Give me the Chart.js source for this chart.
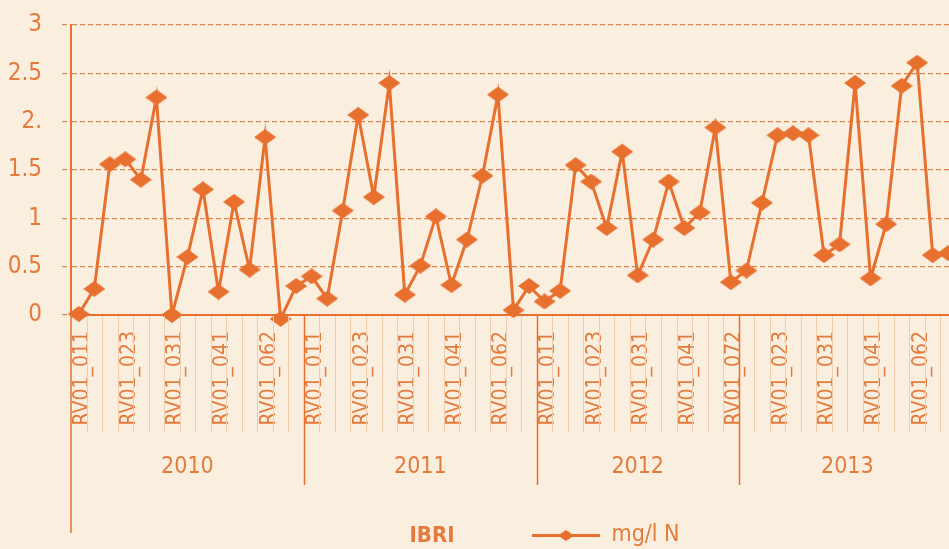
<!DOCTYPE html>
<html>
<head>
<meta charset="utf-8">
<script src="https://cdn.jsdelivr.net/npm/chart.js@4.4.0/dist/chart.umd.min.js"></script>
<style>
  html, body { margin: 0; padding: 0; overflow: hidden; background: #faeedf; }
  #wrap { width: 960px; height: 549px; }
</style>
</head>
<body>
<div id="wrap"><canvas id="chart"></canvas></div>
<script>
// sample codes, only every third one is printed on the axis
const sampleLabels = [
  'RV01_011', '', '', 'RV01_023', '', '', 'RV01_031', '', '', 'RV01_041', '', '', 'RV01_062', '', '',
  'RV01_011', '', '', 'RV01_023', '', '', 'RV01_031', '', '', 'RV01_041', '', '', 'RV01_062', '', '',
  'RV01_011', '', '', 'RV01_023', '', '', 'RV01_031', '', '', 'RV01_041', '', '', 'RV01_072',
  '', '', 'RV01_023', '', '', 'RV01_031', '', '', 'RV01_041', '', '', 'RV01_062', '', ''
];
const years = ['2010', '2011', '2012', '2013'];
const samplesPerYear = [15, 15, 13, 14];
const nitrogen = [
  0.01, 0.27, 1.56, 1.61, 1.40, 2.25, 0.00, 0.60, 1.30, 0.24, 1.17, 0.47, 1.84, -0.04, 0.30,
  0.40, 0.17, 1.08, 2.07, 1.22, 2.40, 0.21, 0.51, 1.02, 0.31, 0.78, 1.44, 2.28, 0.05, 0.30,
  0.14, 0.25, 1.55, 1.38, 0.90, 1.69, 0.41, 0.78, 1.38, 0.90, 1.06, 1.94, 0.34,
  0.46, 1.16, 1.86, 1.88, 1.86, 0.62, 0.73, 2.40, 0.38, 0.94, 2.37, 2.61, 0.62, 0.64
];
const yTickText = ['0', '0.5', '1', '1.5', '2.', '2.5', '3'];
const siteName = 'IBRI';
const seriesName = 'mg/l N';

const ORANGE = '#e8702e';
const TEXT = '#e37b3d';
const GRID = '#dc8552';
const FONT = '"Liberation Sans Narrow", "DejaVu Sans Condensed", "Open Sans", sans-serif';

function diamond(w, h, lineLen) {
  const c = document.createElement('canvas');
  c.width = lineLen || w;
  c.height = h;
  const g = c.getContext('2d');
  g.fillStyle = ORANGE;
  g.strokeStyle = ORANGE;
  if (lineLen) {
    g.lineWidth = 3;
    g.beginPath();
    g.moveTo(0, h / 2);
    g.lineTo(lineLen, h / 2);
    g.stroke();
  }
  const cx = c.width / 2;
  g.beginPath();
  g.moveTo(cx - w / 2, h / 2);
  g.lineTo(cx, 0);
  g.lineTo(cx + w / 2, h / 2);
  g.lineTo(cx, h);
  g.closePath();
  g.fill();
  return c;
}
const pointIcon = diamond(22, 16);
const legendIcon = diamond(16, 11, 68);

// year row, separators under the axis, site name, legend placement
const axisDecor = {
  id: 'axisDecor',
  afterLayout(chart) {
    const l = chart.legend;
    const pad = l.options.labels.padding;
    const shift = 532 - (l.left + pad + l.right - l.lineWidths[0]) / 2;
    l.left += shift;
    l.right += shift;
    l.top += 8;
    l.bottom += 8;
  },
  afterDraw(chart) {
    const { ctx, chartArea } = chart;
    const x = chart.scales.x;
    const base = chartArea.bottom;
    ctx.save();
    ctx.strokeStyle = '#efcdaf';
    ctx.lineWidth = 1;
    for (let i = 1; i <= nitrogen.length; i++) {
      const px = Math.round(x.getPixelForValue(i - 0.5)) + 0.5;
      ctx.beginPath();
      ctx.moveTo(px, base + 1);
      ctx.lineTo(px, base + 117);
      ctx.stroke();
    }
    ctx.strokeStyle = ORANGE;
    ctx.lineWidth = 1.5;
    ctx.beginPath();
    ctx.moveTo(chartArea.left, base);
    ctx.lineTo(chartArea.left, base + 218);
    ctx.stroke();
    ctx.fillStyle = TEXT;
    ctx.font = '23px ' + FONT;
    ctx.textAlign = 'center';
    ctx.textBaseline = 'middle';
    let start = 0;
    samplesPerYear.forEach((n, k) => {
      const x0 = x.getPixelForValue(start - 0.5);
      const x1 = x.getPixelForValue(start + n - 0.5);
      if (k > 0) {
        ctx.beginPath();
        ctx.moveTo(Math.round(x0) + 0.5, base);
        ctx.lineTo(Math.round(x0) + 0.5, base + 170);
        ctx.stroke();
      }
      ctx.fillText(years[k], (x0 + x1) / 2, base + 152);
      start += n;
    });
    ctx.font = 'bold 22px ' + FONT;
    ctx.fillText(siteName, 432, 536);
    ctx.restore();
  }
};

new Chart(document.getElementById('chart'), {
  type: 'line',
  data: {
    labels: sampleLabels,
    datasets: [{
      label: seriesName,
      data: nitrogen,
      borderColor: ORANGE,
      backgroundColor: ORANGE,
      borderWidth: 3,
      pointStyle: pointIcon,
      pointRadius: 10,
      tension: 0,
      clip: false
    }]
  },
  options: {
    responsive: true,
    maintainAspectRatio: false,
    devicePixelRatio: 1,
    animation: false,
    layout: { autoPadding: false, padding: { top: 25, right: 4, left: 0, bottom: 0 } },
    plugins: {
      tooltip: { enabled: false },
      legend: {
        position: 'bottom',
        labels: {
          usePointStyle: true,
          pointStyleWidth: 68,
          padding: 4,
          color: TEXT,
          font: { family: FONT, size: 23 },
          generateLabels(chart) {
            const items = Chart.defaults.plugins.legend.labels.generateLabels(chart);
            items.forEach(it => { it.pointStyle = legendIcon; });
            return items;
          }
        }
      }
    },
    scales: {
      x: {
        offset: true,
        grid: { display: false, drawTicks: false },
        border: { display: true, color: ORANGE, width: 2 },
        ticks: {
          autoSkip: false,
          maxRotation: 90,
          minRotation: 90,
          padding: 16,
          labelOffset: 4,
          color: TEXT,
          font: { family: FONT, size: 21 }
        },
        afterFit(scale) {
          scale.height = scale.chart.height - 315 - scale.chart.legend.height;
          scale.paddingLeft = 0;
          scale.paddingRight = 0;
        }
      },
      y: {
        min: 0,
        max: 3,
        ticks: {
          stepSize: 0.5,
          padding: 20,
          color: TEXT,
          font: { family: FONT, size: 24 },
          callback: (v, i) => yTickText[i]
        },
        grid: {
          color: GRID,
          lineWidth: 1.2,
          tickLength: 9,
          tickColor: GRID,
          tickBorderDash: [5, 3]
        },
        border: { display: true, color: ORANGE, width: 2, dash: [5, 3] },
        afterFit(scale) {
          scale.width = 71;
          scale.paddingTop = 0;
          scale.paddingBottom = 0;
        }
      }
    }
  },
  plugins: [axisDecor]
});
</script>
</body>
</html>
